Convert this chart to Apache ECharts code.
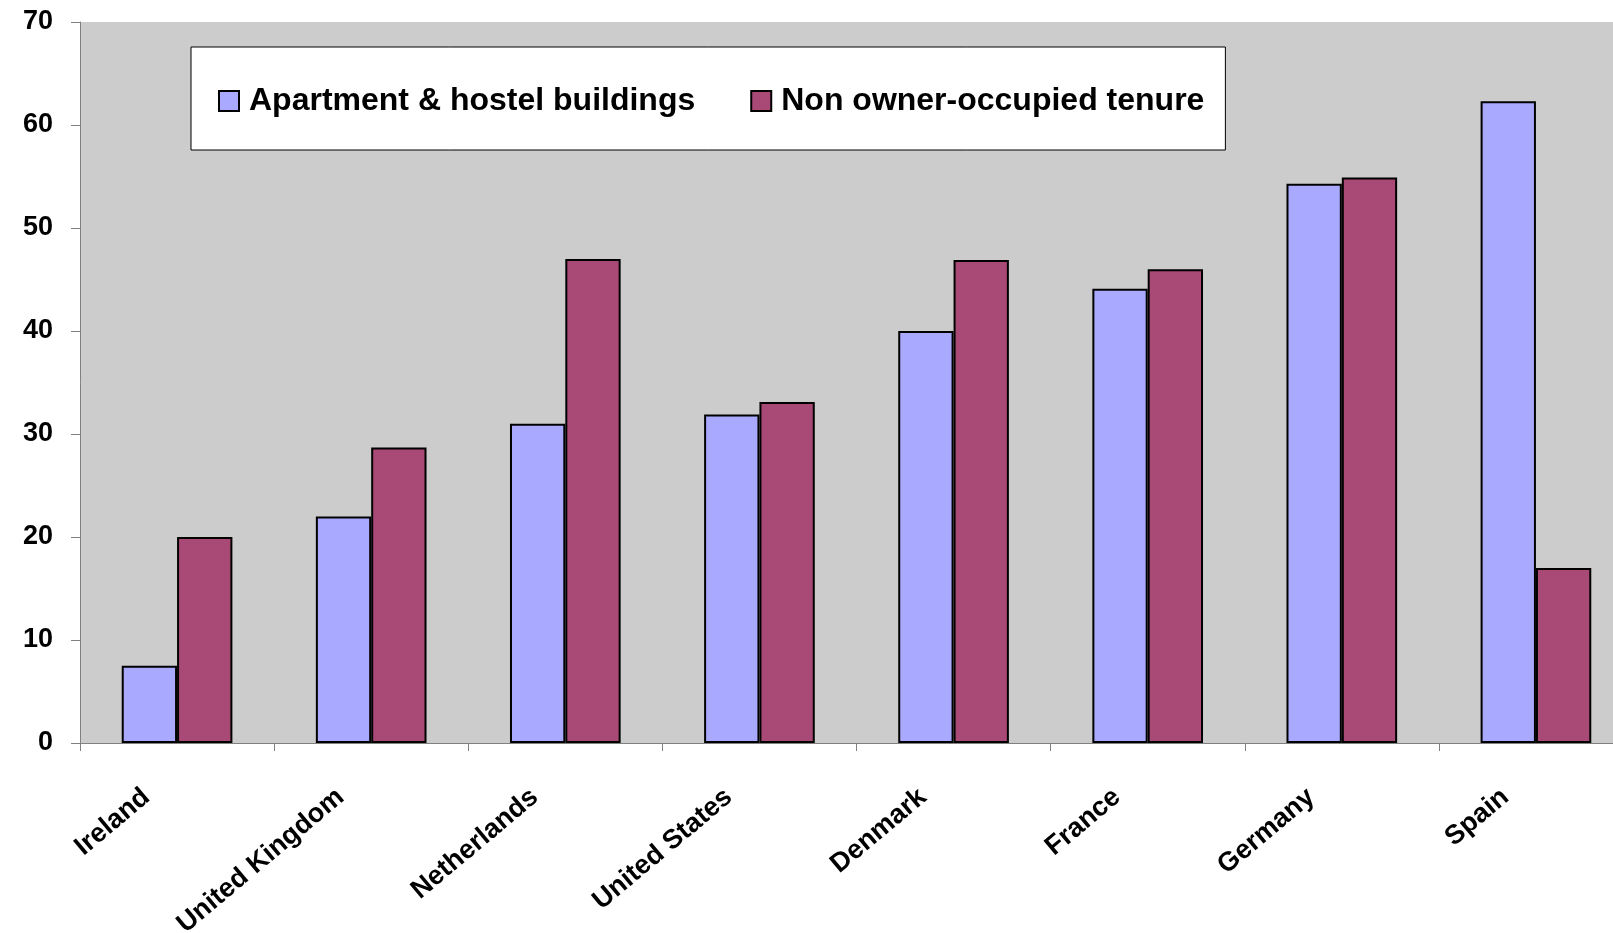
<!DOCTYPE html>
<html>
<head>
<meta charset="utf-8">
<title>Apartment buildings and non owner-occupied tenure</title>
<script src="https://cdn.jsdelivr.net/npm/echarts@6/dist/echarts.min.js"></script>
<style>
  html, body { margin: 0; padding: 0; background: #ffffff; overflow: hidden; }
  /* the plot runs slightly past the right edge of the page */
  #chart { width: 1633px; height: 933px; }
</style>
</head>
<body>
<div id="chart"></div>
<script>
// Countries along the category axis
const countries = ['Ireland', 'United Kingdom', 'Netherlands', 'United States',
  'Denmark', 'France', 'Germany', 'Spain'];

// Share of dwellings (%) per country
const apartmentHostel = [7.5, 22.0, 31.0, 31.9, 40.0, 44.1, 54.3, 62.3];
const nonOwnerOccupied = [20.0, 28.7, 47.0, 33.1, 46.9, 46.0, 54.9, 17.0];

const seriesNames = ['Apartment & hostel buildings', 'Non owner-occupied tenure'];
const seriesColors = ['#A9AAFF', '#A94975'];

const font = '"Liberation Sans", Arial, sans-serif';

const chart = echarts.init(document.getElementById('chart'), null, { renderer: 'canvas' });

chart.setOption({
  animation: false,
  backgroundColor: '#ffffff',
  grid: {
    left: 80, top: 22, bottom: 190, right: 0,
    outerBoundsMode: 'none',
    show: true, backgroundColor: '#CCCCCC', borderWidth: 0
  },
  legend: {
    left: 191, top: 47,
    padding: [38, 21, 33, 27],
    backgroundColor: '#ffffff',
    borderColor: '#000000', borderWidth: 1,
    itemWidth: 20, itemHeight: 20, itemGap: 55,
    icon: 'rect',
    itemStyle: { borderColor: '#000000', borderWidth: 2 },
    textStyle: {
      fontFamily: font, fontWeight: 'bold', fontSize: 32,
      color: '#000000', lineHeight: 30, padding: [0, 0, 0, 5]
    },
    data: seriesNames
  },
  xAxis: {
    type: 'category',
    data: countries,
    boundaryGap: true,
    axisLine: { show: true, lineStyle: { color: '#808080', width: 1 } },
    axisTick: { show: true, length: 8, lineStyle: { color: '#808080' } },
    axisLabel: {
      rotate: 40, margin: 25, interval: 0,
      padding: [0, 40, 0, 0],
      fontFamily: font, fontWeight: 'bold', fontSize: 27, color: '#000000'
    },
    splitLine: { show: false }
  },
  yAxis: {
    type: 'value',
    min: 0, max: 70, interval: 10,
    axisLine: { show: true, lineStyle: { color: '#808080', width: 1 } },
    axisTick: { show: true, length: 9, lineStyle: { color: '#808080' } },
    axisLabel: {
      margin: 27,
      fontFamily: font, fontWeight: 'bold', fontSize: 27, color: '#000000'
    },
    splitLine: { show: false }
  },
  series: [
    {
      name: seriesNames[0], type: 'bar', data: apartmentHostel,
      barGap: '0%', barCategoryGap: '43%',
      itemStyle: { color: seriesColors[0], borderColor: '#000000', borderWidth: 2 }
    },
    {
      name: seriesNames[1], type: 'bar', data: nonOwnerOccupied,
      barGap: '0%', barCategoryGap: '43%',
      itemStyle: { color: seriesColors[1], borderColor: '#000000', borderWidth: 2 }
    }
  ]
});
</script>
</body>
</html>
